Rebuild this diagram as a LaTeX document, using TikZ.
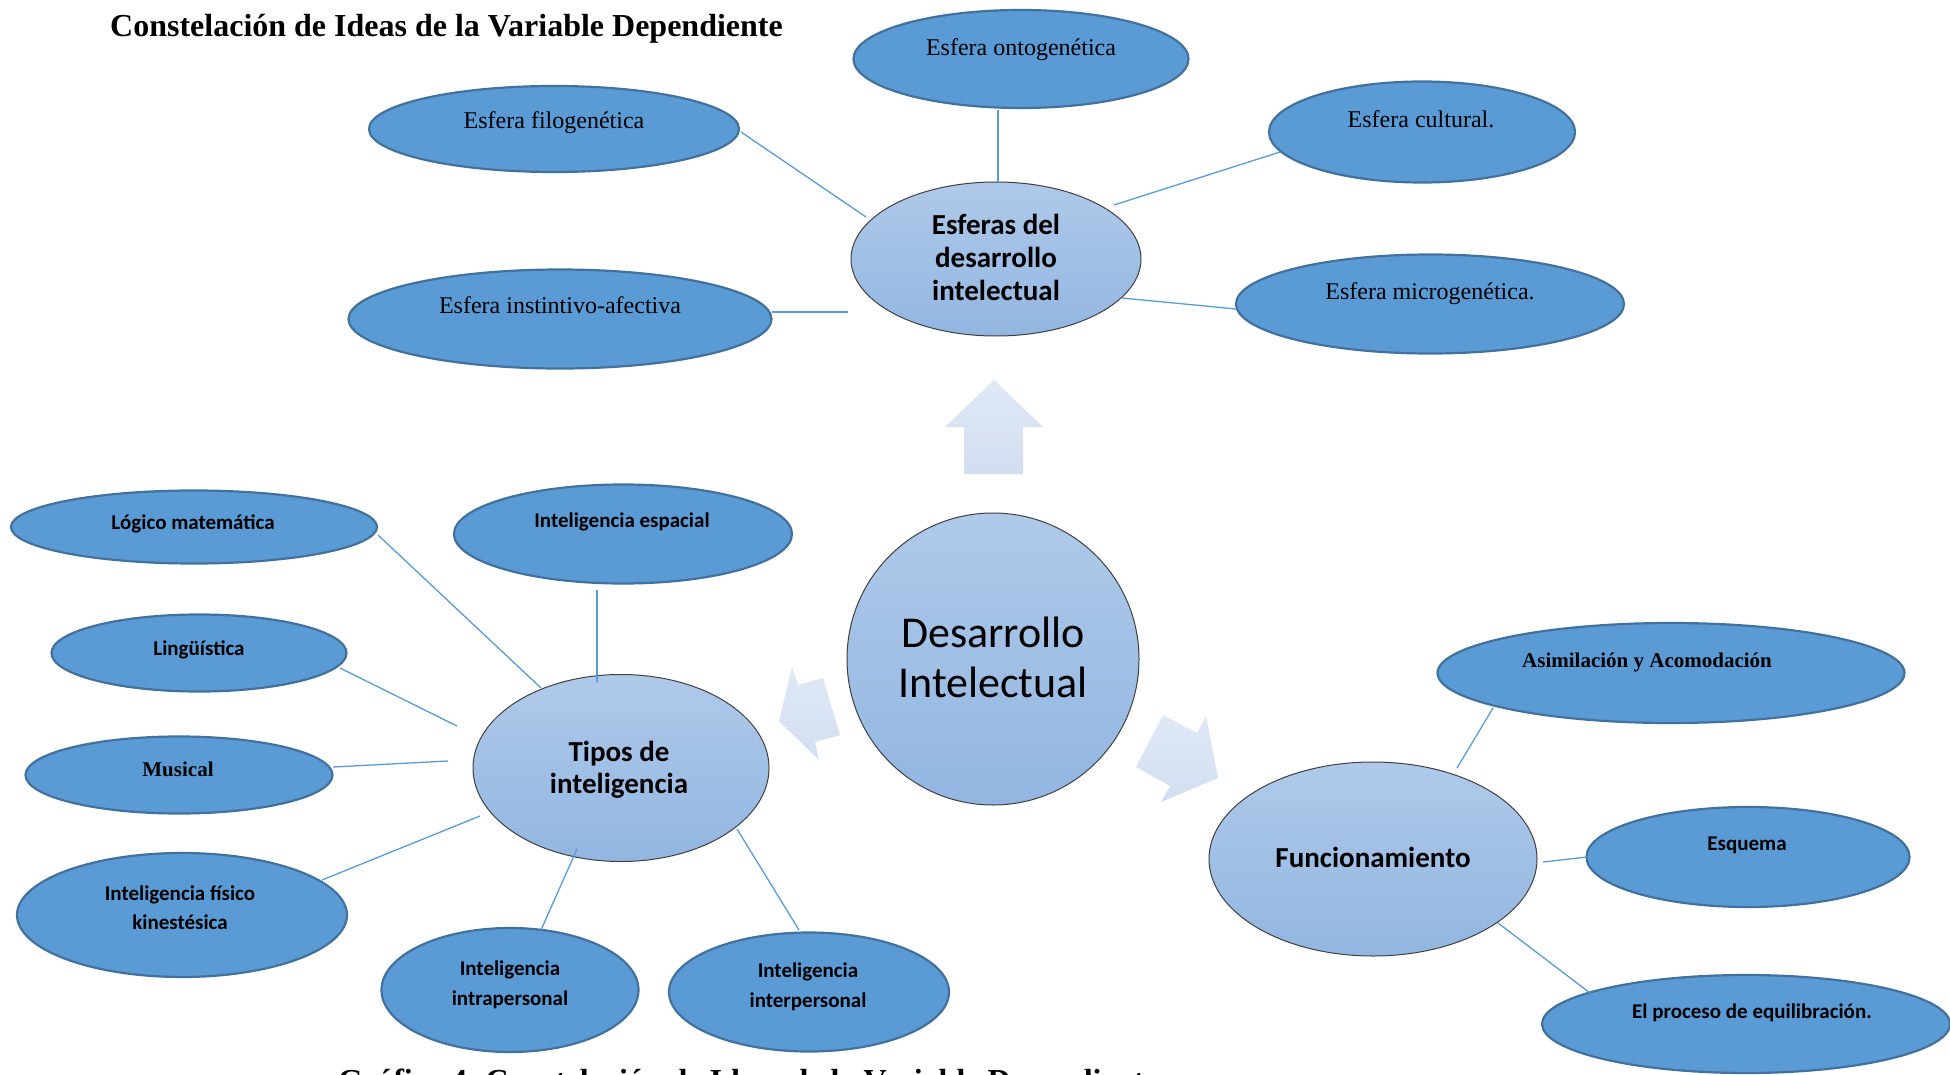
\documentclass[tikz,border=0pt]{standalone}
\usepackage{fontspec}
\setmainfont{Liberation Serif}
\newfontfamily\calib{Carlito}
\usetikzlibrary{calc,shapes.geometric}
\definecolor{outerfill}{HTML}{5B9BD5}
\definecolor{outerdraw}{HTML}{41719C}
\definecolor{hubtop}{HTML}{AFC9E9}
\definecolor{hubbot}{HTML}{92B6E1}
\definecolor{hubdraw}{HTML}{404040}
\definecolor{arrtop}{HTML}{E0E8F5}
\definecolor{arrbot}{HTML}{D2DEF1}
\definecolor{linec}{HTML}{5B9BD5}
\tikzset{
  outer/.style={ellipse, draw=outerdraw, line width=2.2pt, fill=outerfill, inner sep=0pt},
  hub/.style={ellipse, draw=hubdraw, line width=1pt, top color=hubtop, bottom color=hubbot, inner sep=0pt},
  conn/.style={draw=linec, line width=1.3pt},
  bigarrow/.style={top color=arrtop, bottom color=arrbot, draw=none},
  txt/.style={anchor=base, inner sep=0pt},
  serift/.style={txt, font=\fontsize{24}{28}\selectfont},
  serifb/.style={txt, font=\fontsize{21}{25}\selectfont\bfseries},
  sansb/.style={txt, font=\calib\fontsize{21}{25}\selectfont\bfseries},
  hubtext/.style={txt, font=\calib\fontsize{29}{33}\selectfont\bfseries},
  bigtext/.style={txt, font=\calib\fontsize{44}{49}\selectfont},
  titlef/.style={anchor=base west, inner sep=0pt, font=\fontsize{32}{38}\selectfont\bfseries}
}
\begin{document}
\begin{tikzpicture}[x=1pt,y=-1pt]
\useasboundingbox (0,0) rectangle (1950,1075);
\fill[white] (0,0) rectangle (1950,1075);
\clip (0,0) rectangle (1950,1075);

% titles
\node[titlef] (title) at (110,37) {Constelación de Ideas de la Variable Dependiente};
\node[titlef] (caption) at (338,1091) {Gráfico 4. Constelación de Ideas de la Variable Dependiente};

% hubs
\node[hub, minimum width=290pt, minimum height=154pt] (esf) at (996,259) {};
\node[hub, circle, minimum size=292pt] (dev) at (993,659) {};
\node[hub, minimum width=296pt, minimum height=187pt] (tipos) at (621,768) {};
\node[hub, minimum width=328pt, minimum height=194pt] (func) at (1373,859) {};

% outer ellipses
\node[outer, minimum width=335pt, minimum height=98pt] (onto) at (1021,59) {};
\node[outer, minimum width=370pt, minimum height=86pt] (filo) at (554,129) {};
\node[outer, minimum width=306pt, minimum height=101pt] (cult) at (1422,132) {};
\node[outer, minimum width=388pt, minimum height=99pt] (micro) at (1430,304) {};
\node[outer, minimum width=423pt, minimum height=99pt] (inst) at (560,319) {};

\node[outer, minimum width=338pt, minimum height=99pt] (esp) at (623,534) {};
\node[outer, minimum width=366pt, minimum height=73pt] (logi) at (194,527) {};
\node[outer, minimum width=295pt, minimum height=77pt] (ling) at (199,653) {};
\node[outer, minimum width=307pt, minimum height=77pt] (musi) at (179,775) {};
\node[outer, minimum width=330pt, minimum height=124pt] (fisi) at (182,915) {};
\node[outer, minimum width=257pt, minimum height=124pt] (intra) at (510,990) {};
\node[outer, minimum width=280pt, minimum height=119pt] (inter) at (809,992) {};

\node[outer, minimum width=467pt, minimum height=100pt] (asim) at (1671,673) {};
\node[outer, minimum width=323pt, minimum height=100pt] (esq) at (1748,857) {};
\node[outer, minimum width=408pt, minimum height=98pt] (equi) at (1746,1024) {};

% connectors
\draw[conn] ($(onto)+(-23,51)$) -- ($(esf)+(2,-77)$);
\draw[conn] ($(filo)+(187,3)$) -- ($(esf)+(-130,-42)$);
\draw[conn] ($(cult)+(-142,20)$) -- ($(esf)+(118,-54)$);
\draw[conn] ($(micro)+(-194,5)$) -- ($(esf)+(126,39)$);
\draw[conn] ($(inst)+(212,-7)$) -- ($(esf)+(-148,53)$);

\draw[conn] ($(logi)+(184,8)$) -- ($(tipos)+(-80,-80)$);
\draw[conn] ($(esp)+(-26,56)$) -- ($(tipos)+(-24,-86)$);
\draw[conn] ($(ling)+(141,15)$) -- ($(tipos)+(-164,-42)$);
\draw[conn] ($(musi)+(154,-8)$) -- ($(tipos)+(-173,-7)$);
\draw[conn] ($(fisi)+(140,-35)$) -- ($(tipos)+(-141,48)$);
\draw[conn] ($(intra)+(31,-60)$) -- ($(tipos)+(-44,81)$);
\draw[conn] ($(inter)+(-10,-62)$) -- ($(tipos)+(116,61)$);

\draw[conn] ($(asim)+(-178,35)$) -- ($(func)+(84,-91)$);
\draw[conn] ($(esq)+(-161,0)$) -- ($(func)+(170,3)$);
\draw[conn] ($(equi)+(-156,-31)$) -- ($(func)+(125,64)$);

% big arrows
\path[bigarrow] (994,380) -- (1043,427) -- (1023,427) -- (1023,474) -- (964,474) -- (964,427) -- (945,427) -- cycle;
\path[bigarrow] (779,721) -- (792,667) -- (798,685) -- (823,678) -- (840,735) -- (815,742) -- (819,760) -- cycle;
\path[bigarrow] (1218,778) -- (1206,716) -- (1197,733) -- (1163,715) -- (1136,767) -- (1170,786) -- (1161,802) -- cycle;

% texts
\node[serift] (onto-t) at (1021,56) {Esfera ontogenética};
\node[serift] (filo-t) at (554,129) {Esfera filogenética};
\node[serift] (cult-t) at (1421,128) {Esfera cultural.};
\node[serift] (micro-t) at (1430,299) {Esfera microgenética.};
\node[serift] (inst-t) at (560,313) {Esfera instintivo-afectiva};

\node[hubtext] (esf-t1) at (996,235) {Esferas del};
\node[hubtext] (esf-t2) at (996,267) {desarrollo};
\node[hubtext] (esf-t3) at (996,300) {intelectual};

\node[bigtext] (dev-t1) at (993,647) {Desarrollo};
\node[bigtext] (dev-t2) at (993,697) {Intelectual};

\node[hubtext] (tipos-t1) at (619,761) {Tipos de};
\node[hubtext] (tipos-t2) at (619,793) {inteligencia};

\node[hubtext] (func-t) at (1373,867) {Funcionamiento};

\node[sansb] (esp-t) at (622,527) {Inteligencia espacial};
\node[sansb] (logi-t) at (193,529) {Lógico matemática};
\node[sansb] (ling-t) at (199,655) {Lingüística};
\node[serifb] (musi-t) at (178,776) {Musical};
\node[sansb] (fisi-t1) at (180,900) {Inteligencia físico};
\node[sansb] (fisi-t2) at (180,929) {kinestésica};
\node[sansb] (intra-t1) at (510,975) {Inteligencia};
\node[sansb] (intra-t2) at (510,1005) {intrapersonal};
\node[sansb] (inter-t1) at (808,977) {Inteligencia};
\node[sansb] (inter-t2) at (808,1007) {interpersonal};

\node[serifb] (asim-t) at (1647,667) {Asimilación y Acomodación};
\node[sansb] (esq-t) at (1747,850) {Esquema};
\node[sansb] (equi-t) at (1752,1018) {El proceso de equilibración.};
\end{tikzpicture}
\end{document}
